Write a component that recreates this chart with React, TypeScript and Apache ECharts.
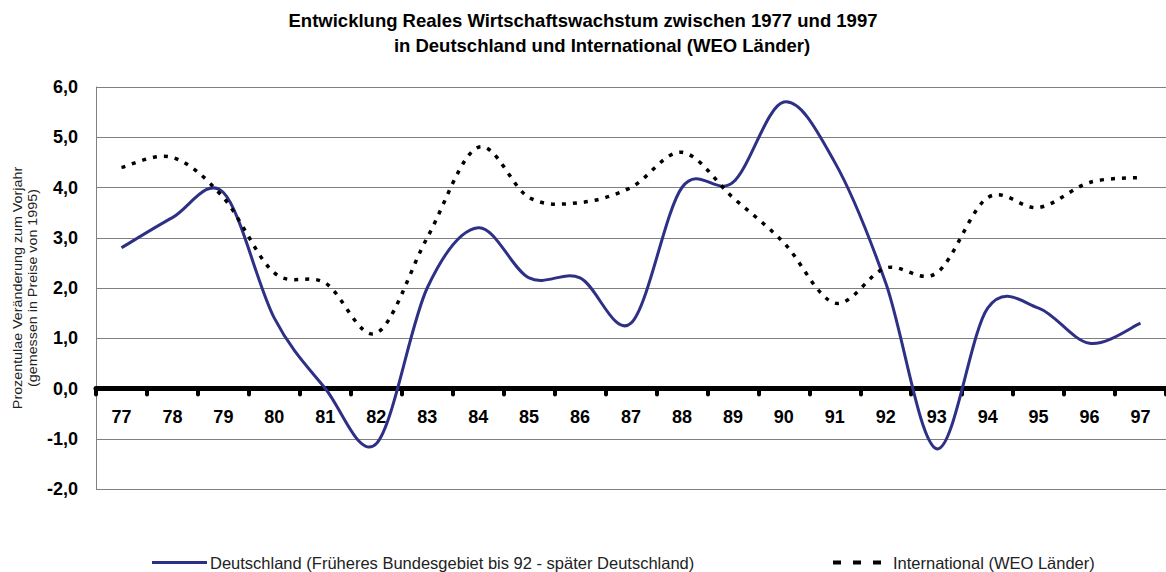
import React, { useEffect, useRef } from "react";
import * as echarts from "echarts";

const years = ["77", "78", "79", "80", "81", "82", "83", "84", "85", "86", "87", "88", "89", "90", "91", "92", "93", "94", "95", "96", "97"];
const deutschland = [2.8, 3.4, 3.9, 1.4, 0.0, -1.1, 2.0, 3.2, 2.2, 2.2, 1.3, 4.0, 4.1, 5.7, 4.5, 2.1, -1.2, 1.6, 1.6, 0.9, 1.3];
const international = [4.4, 4.6, 3.8, 2.3, 2.1, 1.1, 3.0, 4.8, 3.8, 3.7, 4.0, 4.7, 3.8, 2.9, 1.7, 2.4, 2.3, 3.8, 3.6, 4.1, 4.2];

const nameD = "Deutschland (Früheres Bundesgebiet bis 92 - später Deutschland)";
const nameI = "International (WEO Länder)";
const titleLine1 = "Entwicklung Reales Wirtschaftswachstum zwischen 1977 und 1997";
const titleLine2 = "in Deutschland und International (WEO Länder)";
const yName1 = "Prozentulae Veränderung zum Vorjahr";
const yName2 = "(gemessen in Preise von 1995)";

const FONT = "'Liberation Sans', Arial, sans-serif";

// Excel-style smoothed line (Catmull-Rom through every data point), drawn via the axes' scales
function smoothPath(values: number[], api: any): string {
  const pts = values.map((v, i) => api.coord([i, v]));
  let d = `M${pts[0][0]},${pts[0][1]}`;
  for (let i = 0; i < pts.length - 1; i++) {
    const p0 = pts[i - 1] || pts[i];
    const p1 = pts[i];
    const p2 = pts[i + 1];
    const p3 = pts[i + 2] || pts[i + 1];
    const c1x = p1[0] + (p2[0] - p0[0]) / 6;
    const c1y = p1[1] + (p2[1] - p0[1]) / 6;
    const c2x = p2[0] - (p3[0] - p1[0]) / 6;
    const c2y = p2[1] - (p3[1] - p1[1]) / 6;
    d += ` C${c1x},${c1y} ${c2x},${c2y} ${p2[0]},${p2[1]}`;
  }
  return d;
}

function makeRender(values: number[], style: any) {
  return (params: any, api: any) => {
    if (params.dataIndex !== 0) return { type: "group", children: [] };
    return {
      type: "path",
      shape: { pathData: smoothPath(values, api) },
      style: { fill: "none", ...style },
    };
  };
}

export default function App() {
  const ref = useRef<HTMLDivElement>(null);
  useEffect(() => {
    if (!ref.current) return;
    const chart = echarts.init(ref.current, null, { renderer: "svg" });
    chart.setOption({
      animation: false,
      backgroundColor: "#fff",
      textStyle: { fontFamily: FONT },
      grid: { left: 96, top: 87, right: -13, bottom: 83, containLabel: false },
      graphic: [
        {
          type: "text",
          x: 583,
          y: 20,
          style: { text: titleLine1, fontSize: 18.5, fontWeight: "bold", fontFamily: FONT, fill: "#000", textAlign: "center", textVerticalAlign: "middle" },
        },
        {
          type: "text",
          x: 602,
          y: 45,
          style: { text: titleLine2, fontSize: 18.5, fontWeight: "bold", fontFamily: FONT, fill: "#000", textAlign: "center", textVerticalAlign: "middle" },
        },
        {
          type: "text",
          x: 25,
          y: 288,
          rotation: Math.PI / 2,
          scaleX: 1.1,
          style: { text: yName1 + "\n" + yName2, fontSize: 13, lineHeight: 15, fontFamily: FONT, fill: "#222", textAlign: "center", textVerticalAlign: "middle" },
        },
      ],
      legend: [
        {
          data: [{ name: nameD, icon: "rect" }],
          left: 152,
          top: 554,
          padding: 0,
          itemWidth: 55,
          itemHeight: 3,
          textStyle: { fontSize: 16.5, color: "#222", fontFamily: FONT, padding: [0, 0, 0, -2] },
        },
        {
          data: [{ name: nameI, icon: "path://M0,0h8v4h-8zM20,0h8v4h-8zM40,0h8v4h-8z" }],
          left: 833,
          top: 554,
          padding: 0,
          itemWidth: 48,
          itemHeight: 4,
          textStyle: { fontSize: 16.5, color: "#222", fontFamily: FONT, padding: [0, 0, 0, 7] },
        },
      ],
      xAxis: {
        type: "category",
        data: years,
        boundaryGap: true,
        offset: -100.5,
        axisLine: { onZero: false, lineStyle: { color: "#000", width: 5, cap: "round" } },
        axisTick: { show: true, length: 6, lineStyle: { color: "#000", width: 4, cap: "round" } },
        axisLabel: { fontSize: 18, fontWeight: "bold", color: "#000", margin: 19, fontFamily: FONT },
        splitLine: { show: false },
      },
      yAxis: {
        type: "value",
        min: -2,
        max: 6,
        interval: 1,
        axisLine: { show: true, onZero: false, lineStyle: { color: "#808080", width: 1 } },
        axisTick: { show: false },
        axisLabel: {
          fontSize: 18,
          fontWeight: "bold",
          color: "#000",
          margin: 18,
          fontFamily: FONT,
          formatter: (v: number) => v.toFixed(1).replace(".", ","),
        },
        splitLine: { show: true, lineStyle: { color: "#808080", width: 1 } },
      },
      series: [
        {
          name: nameD,
          type: "custom",
          data: deutschland.map((v, i) => [i, v]),
          encode: { x: 0, y: 1 },
          itemStyle: { color: "#2E3085" },
          renderItem: makeRender(deutschland, { stroke: "#2E3085", lineWidth: 3 }),
          z: 3,
        },
        {
          name: nameI,
          type: "custom",
          data: international.map((v, i) => [i, v]),
          encode: { x: 0, y: 1 },
          itemStyle: { color: "#000" },
          renderItem: makeRender(international, { stroke: "#000", lineWidth: 3.5, lineDash: [4, 7] }),
          z: 4,
        },
      ],
    });
    return () => chart.dispose();
  }, []);
  return <div ref={ref} style={{ position: "fixed", left: 0, top: 0, width: 1166, height: 572 }} />;
}
